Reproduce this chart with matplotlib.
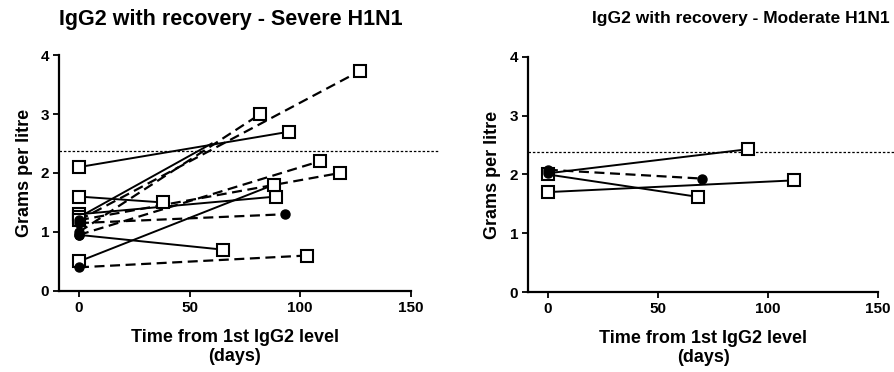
import matplotlib
matplotlib.use('Agg')
import matplotlib.pyplot as plt

plt.rcParams['font.family'] = ['Liberation Sans', 'DejaVu Sans']

# severe H1N1: one pair of (days, g/L) per patient
severe_days = [[0, 95], [0, 38], [0, 89], [0, 88], [0, 65], [0, 60],
               [0, 127], [0, 82], [0, 109], [0, 118], [0, 93], [0, 103]]
severe_vals = [[2.1, 2.7], [1.6, 1.5], [1.3, 1.6], [0.5, 1.8], [0.95, 0.7], [1.25, 2.5],
               [1.2, 3.73], [1.0, 3.0], [0.95, 2.2], [1.2, 2.0], [1.15, 1.3], [0.4, 0.6]]

# moderate H1N1
moderate_days = [[0, 112], [0, 68], [0, 91], [0, 70]]
moderate_vals = [[1.7, 1.9], [2.0, 1.62], [2.02, 2.43], [2.08, 1.93]]

threshold = 2.38
titles = ['IgG2 with recovery - Severe H1N1', 'IgG2 with recovery - Moderate H1N1']

# line style, start marker, end marker
severe_fmt = [('-', 's', 's'), ('-', 's', 's'), ('-', 's', 's'), ('-', 's', 's'),
              ('-', 'o', 's'), ('-', 's', None),
              ('--', 'o', 's'), ('--', 'o', 's'), ('--', 'o', 's'), ('--', 's', 's'),
              ('--', 'o', 'o'), ('--', 'o', 's')]
moderate_fmt = [('-', 's', 's'), ('-', 's', 's'), ('-', 'o', 's'), ('--', 'o', 'o')]


def marker(ax, x, y, m):
    if m == 's':
        ax.plot(x, y, 's', ms=8, mfc='white', mec='black', mew=1.5, zorder=4, clip_on=False)
    elif m == 'o':
        ax.plot(x, y, 'o', ms=6.5, mfc='black', mec='black', zorder=5, clip_on=False)


def panel(ax, days, vals, fmts, dot_end):
    for d, v, (ls, m0, m1) in zip(days, vals, fmts):
        if ls == '--':
            ax.plot(d, v, color='black', lw=1.6, dashes=(4.5, 2.5), zorder=3)
        else:
            ax.plot(d, v, color='black', lw=1.4, zorder=3)
        marker(ax, d[0], v[0], m0)
        marker(ax, d[1], v[1], m1)
    ax.axhline(threshold, xmin=0, xmax=dot_end, color='black', lw=0.9,
               ls=(0, (2, 1.5)), clip_on=False, zorder=2)
    ax.set_xlim(-9, 150)
    ax.set_ylim(0, 4)
    ax.set_xticks([0, 50, 100, 150])
    ax.set_yticks([0, 1, 2, 3, 4])
    for s in ['top', 'right']:
        ax.spines[s].set_visible(False)
    for s in ['left', 'bottom']:
        ax.spines[s].set_linewidth(1.6)
    ax.tick_params(direction='out', length=4, width=1.3, labelsize=11, pad=3)
    for lab in ax.get_xticklabels() + ax.get_yticklabels():
        lab.set_fontweight('bold')
    ax.set_ylabel('Grams per litre', fontsize=13, fontweight='bold', labelpad=6)
    ax.set_xlabel('Time from 1st IgG2 level\n(days)', fontsize=13, fontweight='bold',
                  labelpad=10, linespacing=1.2)


fig = plt.figure(figsize=(8.95, 3.72), dpi=100)
ax1 = fig.add_axes([0.066, 0.218, 0.393, 0.634])
ax2 = fig.add_axes([0.590, 0.215, 0.391, 0.632])

panel(ax1, severe_days, severe_vals, severe_fmt, 1.08)
panel(ax2, moderate_days, moderate_vals, moderate_fmt, 1.05)

fig.text(231 / 895, 1 - 20 / 372, titles[0], fontsize=15.5, fontweight='bold',
         ha='center', va='center')
fig.text(741 / 895, 1 - 19 / 372, titles[1], fontsize=12.5, fontweight='bold',
         ha='center', va='center')

fig.savefig('out.png', dpi=100)
